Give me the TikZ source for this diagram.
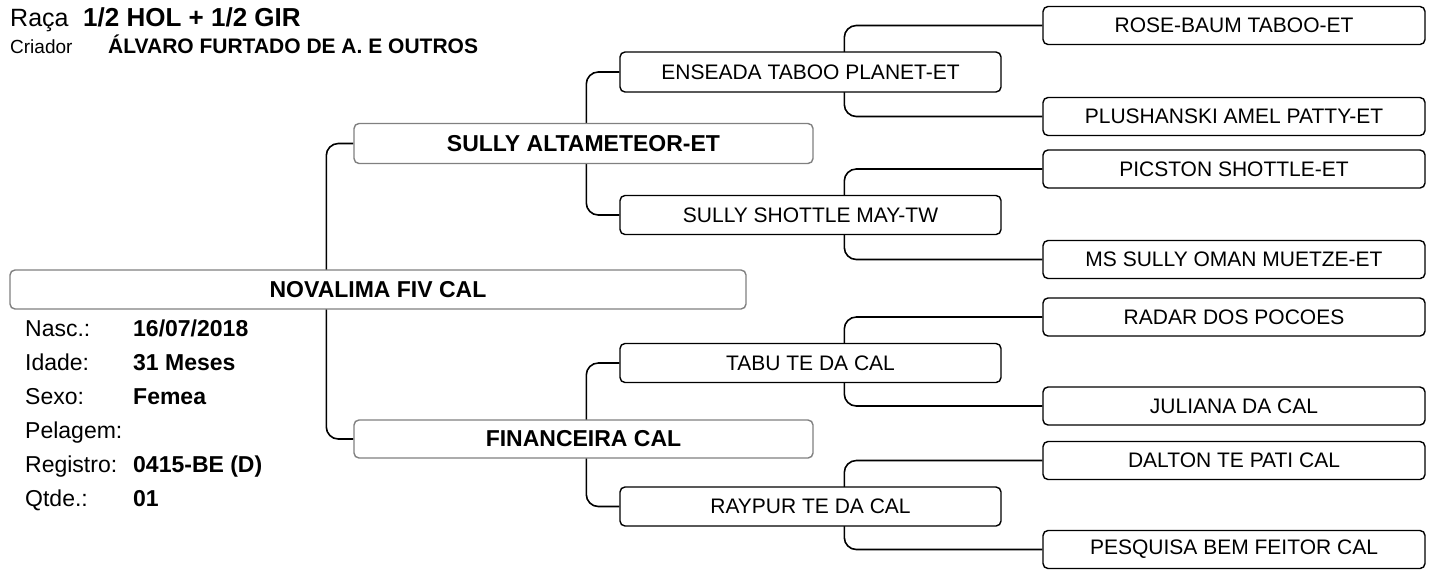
\documentclass[tikz,border=0pt]{standalone}
\usepackage{fontspec}
\setmainfont{Liberation Sans}
\usetikzlibrary{backgrounds}
\newcommand{\fsz}[1]{\fontsize{#1}{#1}\selectfont}
\begin{document}
\begin{tikzpicture}[x=1pt,y=-1pt,
  boxa/.style={draw=black!50, line width=1.4pt, rounded corners=5pt, fill=white, inner sep=0pt,
    minimum width=459pt, minimum height=39pt, font=\fsz{23}\bfseries},
  boxb/.style={draw=black, line width=1.4pt, rounded corners=5pt, fill=white, inner sep=0pt,
    minimum width=381pt, minimum height=39pt, font=\fsz{21}},
  boxc/.style={boxb, minimum width=382pt, minimum height=38pt},
  conn/.style={draw=black, line width=1.6pt, rounded corners=12pt},
  lbl/.style={anchor=base west, inner sep=0pt, font=\fsz{23}},
  val/.style={anchor=base west, inner sep=0pt, font=\fsz{23}\bfseries}]
\useasboundingbox (0,0) rectangle (1434,570);

% header
\node[anchor=base west, inner sep=0pt, font=\fsz{25}] (raca) at (10,27) {Raça};
\node[anchor=base west, inner sep=0pt, font=\fsz{26}\bfseries] (racav) at (83,27) {1/2 HOL + 1/2 GIR};
\node[anchor=base west, inner sep=0pt, font=\fsz{19}] (cria) at (10,53) {Criador};
\node[anchor=base west, inner sep=0pt, font=\fsz{21}\bfseries] (criav) at (108,53) {ÁLVARO FURTADO DE A. E OUTROS};

% boxes
\node[boxa, minimum width=736pt, minimum height=39pt] (p) at (378,289.5) {NOVALIMA FIV CAL};
\node[boxa, minimum height=40pt] (s) at (583.5,143.5) {SULLY ALTAMETEOR-ET};
\node[boxa, minimum height=38pt] (d) at (583.5,439) {FINANCEIRA CAL};

\node[boxb, minimum height=40pt] (ss) at (810.5,72) {ENSEADA TABOO PLANET-ET};
\node[boxb] (sd) at (810.5,215) {SULLY SHOTTLE MAY-TW};
\node[boxb] (ds) at (810.5,363) {TABU TE DA CAL};
\node[boxb] (dd) at (810.5,506.5) {RAYPUR TE DA CAL};

\node[boxc] (sss) at (1234,25.5) {ROSE-BAUM TABOO-ET};
\node[boxc] (ssd) at (1234,116.5) {PLUSHANSKI AMEL PATTY-ET};
\node[boxc] (sds) at (1234,169) {PICSTON SHOTTLE-ET};
\node[boxc] (sdd) at (1234,259.5) {MS SULLY OMAN MUETZE-ET};
\node[boxc] (dss) at (1234,317) {RADAR DOS POCOES};
\node[boxc] (dsd) at (1234,406) {JULIANA DA CAL};
\node[boxc] (dds) at (1234,460.5) {DALTON TE PATI CAL};
\node[boxc] (ddd) at (1234,549.5) {PESQUISA BEM FEITOR CAL};

% connectors
\begin{scope}[on background layer]
\draw[conn] (s.west) -- ++(-27,0) |- (d.west);
\draw[conn] (ss.west) -- ++(-33,0) |- (sd.west);
\draw[conn] (ds.west) -- ++(-33,0) |- (dd.west);
\draw[conn] (sss.west) -- ++(-198,0) |- (ssd.west);
\draw[conn] (sds.west) -- ++(-198,0) |- (sdd.west);
\draw[conn] (dss.west) -- ++(-198,0) |- (dsd.west);
\draw[conn] (dds.west) -- ++(-198,0) |- (ddd.west);
\end{scope}

% info
\node[lbl] (l1) at (25,336) {Nasc.:};
\node[val] (v1) at (133,336) {16/07/2018};
\node[lbl] (l2) at (25,370) {Idade:};
\node[val] (v2) at (133,370) {31 Meses};
\node[lbl] (l3) at (25,404) {Sexo:};
\node[val] (v3) at (133,404) {Femea};
\node[lbl] (l4) at (25,438) {Pelagem:};
\node[lbl] (l5) at (25,472) {Registro:};
\node[val] (v5) at (133,472) {0415-BE (D)};
\node[lbl] (l6) at (25,506) {Qtde.:};
\node[val] (v6) at (133,506) {01};
\end{tikzpicture}
\end{document}
